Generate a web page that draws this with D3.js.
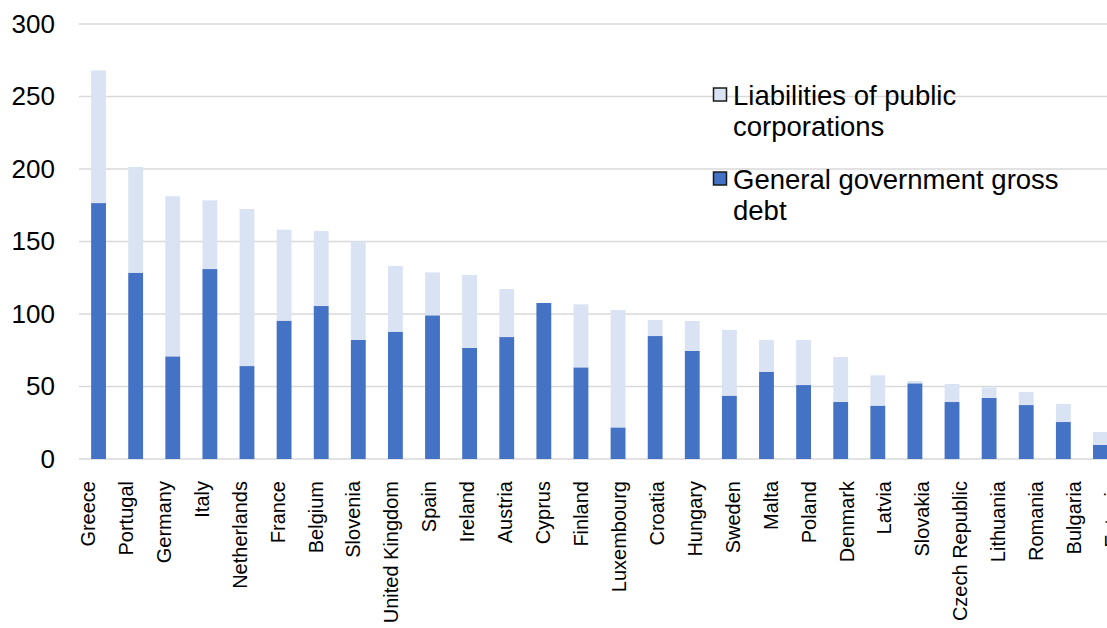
<!DOCTYPE html>
<html>
<head>
<meta charset="utf-8">
<script src="https://cdn.jsdelivr.net/npm/d3@7"></script>
<style>
  body { margin: 0; background: #fff; overflow: hidden; }
  text { font-family: "Liberation Sans", Arial, sans-serif; fill: #000; }
</style>
</head>
<body>
<div class="chart-wrapper"></div>
<script>
const countries = ["Greece", "Portugal", "Germany", "Italy", "Netherlands", "France", "Belgium",
  "Slovenia", "United Kingdom", "Spain", "Ireland", "Austria", "Cyprus", "Finland", "Luxembourg",
  "Croatia", "Hungary", "Sweden", "Malta", "Poland", "Denmark", "Latvia", "Slovakia",
  "Czech Republic", "Lithuania", "Romania", "Bulgaria", "Estonia"];

// general government gross debt
const govDebt = [176.5, 128.5, 70.8, 131, 64.1, 95.4, 105.5, 82.1, 87.8, 99.1, 76.6, 84.1, 107.6,
  63.2, 21.8, 84.8, 74.5, 43.7, 60.2, 51, 39.3, 36.8, 52.2, 39.3, 42.1, 37.2, 25.5, 9.7];

// liabilities of public corporations
const publicCorp = [91.5, 72.9, 110.4, 47.4, 108.3, 62.8, 51.7, 68, 45.3, 29.6, 50.3, 33.1, 0,
  43.5, 81, 11.1, 20.7, 45.3, 21.9, 31.1, 31, 20.9, 1.6, 12.4, 7.3, 9, 12.4, 8.9];

const yTicks = [0, 50, 100, 150, 200, 250, 300];

const seriesKeys = ["gov", "corp"];
const seriesLabels = {
  corp: ["Liabilities of public", "corporations"],
  gov: ["General government gross", "debt"]
};
const colors = { gov: "#4472C4", corp: "#DAE3F3" };

let width = 1107;
let height = 628;

const svg = d3.select('.chart-wrapper')
  .append('svg')
  .attr("width", width)
  .attr("height", height);

let x = d3.scaleBand()
  .domain(countries)
  .range([80, 1119])
  .paddingInner(0.6)
  .paddingOuter(0.3);

// the category labels sit on a slightly wider spacing than the bars
let xLabel = d3.scalePoint()
  .domain(countries)
  .range([95, 1119]);

let y = d3.scaleLinear()
  .domain([0, 300])
  .range([459, 24]);

// gridlines
svg.append("g")
  .selectAll("line")
  .data(yTicks)
  .enter()
  .append("line")
  .attr("x1", 79)
  .attr("x2", width)
  .attr("y1", d => y(d))
  .attr("y2", d => y(d))
  .attr("stroke", "#d9d9d9")
  .attr("stroke-width", 1.5);

// y axis labels
let yAxis = svg.append("g")
  .attr("transform", "translate(55,0)")
  .call(d3.axisLeft(y).tickValues(yTicks).tickSize(0).tickPadding(0));

yAxis.select(".domain").remove();
yAxis.selectAll("text")
  .attr("font-size", 26)
  .attr("font-family", "Liberation Sans, Arial, sans-serif")
  .attr("fill", "#000");

let rows = countries.map((c, i) => ({ country: c, gov: govDebt[i], corp: publicCorp[i] }));
let stacked = d3.stack().keys(seriesKeys)(rows);

svg.append("g")
  .selectAll("g")
  .data(stacked)
  .enter()
  .append("g")
  .attr("fill", d => colors[d.key])
  .selectAll("rect")
  .data(d => d)
  .enter()
  .append("rect")
  .attr("x", d => x(d.data.country))
  .attr("width", x.bandwidth())
  .attr("y", d => y(d[1]))
  .attr("height", d => y(d[0]) - y(d[1]));

// category labels, rotated
svg.append("g")
  .selectAll("text")
  .data(countries)
  .enter()
  .append("text")
  .attr("transform", d => "translate(" + (xLabel(d)) + ",481) rotate(-90)")
  .attr("text-anchor", "end")
  .attr("font-size", 20)
  .text(d => d);

// legend
let legendItems = [
  { key: "corp", y: 88 },
  { key: "gov", y: 172 }
];

let legend = svg.append("g");

legendItems.forEach(item => {
  legend.append("rect")
    .attr("x", 713.5)
    .attr("y", item.y)
    .attr("width", 13)
    .attr("height", 13)
    .attr("fill", colors[item.key])
    .attr("stroke", "#1a1a1a")
    .attr("stroke-width", 1.5);

  legend.append("text")
    .attr("x", 733)
    .attr("y", item.y + 17)
    .attr("font-size", 27.5)
    .selectAll("tspan")
    .data(seriesLabels[item.key])
    .enter()
    .append("tspan")
    .attr("x", 733)
    .attr("dy", (d, i) => i == 0 ? 0 : 31)
    .text(d => d);
});
</script>
</body>
</html>
